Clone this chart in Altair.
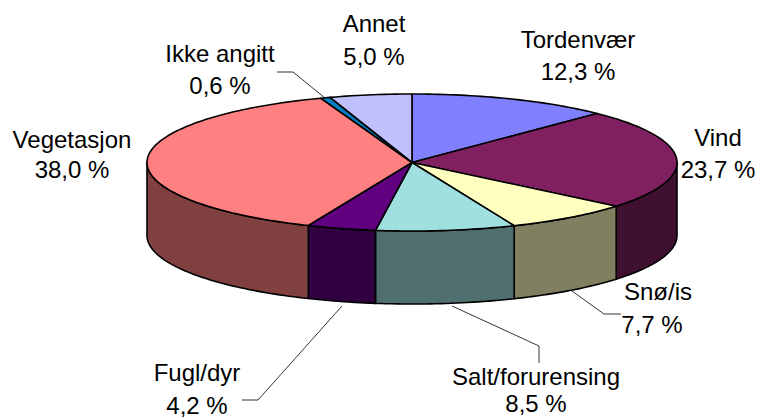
import math
import altair as alt

# Chart values
categories = ["Tordenvær", "Vind", "Snø/is", "Salt/forurensing", "Fugl/dyr", "Vegetasjon", "Ikke angitt", "Annet"]
shares = [12.3, 23.7, 7.7, 8.5, 4.2, 38.0, 0.6, 5.0]
top_colors = ["#8080FF", "#802060", "#FFFFC0", "#A0E0E0", "#600080", "#FF8080", "#0080C0", "#C0C0FF"]
side_colors = ["#404080", "#401030", "#808060", "#507070", "#300040", "#804040", "#004060", "#606080"]

# Layout of the pie and its annotations (chart pixels)
CX, CY, RX, RY, DEPTH = 404.0, 154.5, 265.0, 68.5, 73.0
name_x = [570, 710, 650, 528, 189, 64, 212, 366]
name_y = [33, 131, 285, 370, 366, 133, 47, 17]
share_x = [570, 710, 644, 528, 189, 64, 212, 366]
share_y = [65, 163, 318, 397, 399, 163, 79, 50]
leaders = [
    [[269, 64], [285, 64], [317, 90]],
    [[564, 283], [596, 306], [613, 306]],
    [[444, 298], [531, 338], [531, 355]],
    [[334, 298], [250, 392], [234, 392]],
]


def pt(angle, drop=0.0):
    return [CX + RX * math.sin(angle), CY - RY * math.cos(angle) + drop]


def arc(a0, a1, drop=0.0):
    n = max(2, int(abs(a1 - a0) / 0.02))
    return [pt(a0 + (a1 - a0) * i / n, drop) for i in range(n + 1)]


walls, tops = [], []
start = 0.0
for share, tc, sc in zip(shares, top_colors, side_colors):
    end = start + share / 100 * 2 * math.pi
    ring = [[CX, CY]] + arc(start, end) + [[CX, CY]]
    tops.append({"type": "Feature", "properties": {"c": tc},
                 "geometry": {"type": "Polygon", "coordinates": [ring]}})
    a0, a1 = max(start, math.pi / 2), min(end, 3 * math.pi / 2)
    if a1 > a0:
        upper = arc(a0, a1)
        lower = arc(a0, a1, DEPTH)[::-1]
        wall = upper + lower + [upper[0]]
        walls.append({"type": "Feature", "properties": {"c": sc},
                      "geometry": {"type": "Polygon", "coordinates": [wall]}})
    start = end

shapes = walls + tops
leader_features = [{"type": "Feature", "properties": {},
                    "geometry": {"type": "LineString", "coordinates": l}} for l in leaders]

text_rows = []
for i, (c, s) in enumerate(zip(categories, shares)):
    text_rows.append({"t": c, "lon": name_x[i], "lat": name_y[i]})
    text_rows.append({"t": f"{s:.1f}".replace(".", ",") + " %", "lon": share_x[i], "lat": share_y[i]})

proj = alt.Projection(type="identity", scale=1, translate=[0, 0])

pie = alt.Chart(alt.InlineData(values={"type": "FeatureCollection", "features": shapes},
                               format=alt.DataFormat(property="features", type="json"))).mark_geoshape(
    stroke="black", strokeWidth=1.6, strokeJoin="round"
).encode(fill=alt.Fill("properties.c:N", scale=None)).project(**proj.to_dict())

lines = alt.Chart(alt.InlineData(values={"type": "FeatureCollection", "features": leader_features},
                                 format=alt.DataFormat(property="features", type="json"))).mark_geoshape(
    filled=False, stroke="black", strokeWidth=0.8
).project(**proj.to_dict())

labels = alt.Chart(alt.Data(values=text_rows)).mark_text(
    font="Liberation Sans", fontSize=24, color="black", align="center", baseline="middle"
).encode(longitude="lon:Q", latitude="lat:Q", text="t:N").project(**proj.to_dict())

chart = alt.layer(pie, lines, labels).properties(
    width=748, height=410, padding=0, background="white", autosize=alt.AutoSizeParams(type="none")
).configure_view(stroke=None)

chart.save("out.html", embed_options={"renderer": "svg", "actions": False})
